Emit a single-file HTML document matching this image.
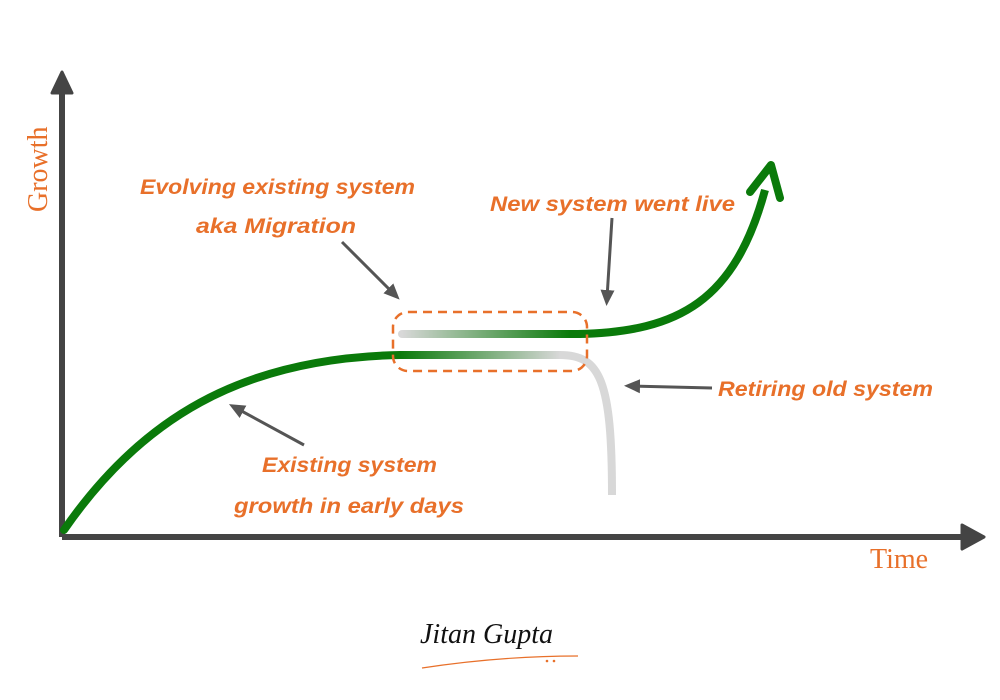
<!DOCTYPE html>
<html><head><meta charset="utf-8"><style>
html,body{margin:0;padding:0;background:#fff;width:1000px;height:700px;overflow:hidden}
svg text{font-family:"Liberation Sans",sans-serif;fill:#e8702a}
</style></head><body>
<svg width="1000" height="700" viewBox="0 0 1000 700" xmlns="http://www.w3.org/2000/svg">
<defs>
<linearGradient id="g1" x1="400" y1="0" x2="560" y2="0" gradientUnits="userSpaceOnUse">
<stop offset="0" stop-color="#0a7a0a"/><stop offset="1" stop-color="#d8d8d8"/></linearGradient>
<linearGradient id="g2" x1="402" y1="0" x2="570" y2="0" gradientUnits="userSpaceOnUse">
<stop offset="0" stop-color="#d8d8d8"/><stop offset="1" stop-color="#0a7a0a"/></linearGradient>
<marker id="ah" markerWidth="16" markerHeight="16" refX="8" refY="8" orient="auto" markerUnits="userSpaceOnUse">
<path d="M0,1 L16,8 L0,15 Z" fill="#555"/></marker>
</defs>
<!-- axes -->
<line x1="62" y1="90" x2="62" y2="537" stroke="#444" stroke-width="6"/>
<path d="M52,93 L62,72 L72,93 Z" fill="#444" stroke="#444" stroke-width="3" stroke-linejoin="round"/>
<line x1="62" y1="537" x2="968" y2="537" stroke="#444" stroke-width="6"/>
<path d="M962,525 L984,537 L962,549 Z" fill="#444" stroke="#444" stroke-width="3" stroke-linejoin="round"/>
<text x="47" y="212" font-size="28" transform="rotate(-90 47 212)" text-anchor="start" style="font-family:'Liberation Serif',serif">Growth</text>
<text x="870" y="568" font-size="28" style="font-family:'Liberation Serif',serif">Time</text>
<!-- old curve -->
<path d="M64,530 C140,420 240,358 400,355" fill="none" stroke="#0a7a0a" stroke-width="8" stroke-linecap="round"/>
<path d="M400,355 L560,355" fill="none" stroke="url(#g1)" stroke-width="8"/>
<path d="M560,355 C600,355 612,380 612,495" fill="none" stroke="#d8d8d8" stroke-width="8"/>
<!-- new curve -->
<path d="M402,334 L580,334" fill="none" stroke="url(#g2)" stroke-width="8" stroke-linecap="round"/>
<path d="M578,334 C680,332 735,300 765,190" fill="none" stroke="#0a7a0a" stroke-width="8"/>
<path d="M750,192 L771,165 L780,198" fill="none" stroke="#0a7a0a" stroke-width="8" stroke-linecap="round" stroke-linejoin="round"/>
<!-- dashed box -->
<rect x="393" y="312" width="194" height="59" rx="15" fill="none" stroke="#e8702a" stroke-width="2.5" stroke-dasharray="9,6"/>
<!-- pointer arrows -->
<g stroke="#555" stroke-width="3" fill="none" marker-end="url(#ah)">
<line x1="342" y1="242" x2="394" y2="294"/>
<line x1="612" y1="218" x2="607" y2="298"/>
<line x1="712" y1="388" x2="632" y2="386"/>
<line x1="304" y1="445" x2="236" y2="408"/>
</g>
<!-- labels -->
<g font-size="21" font-style="italic" font-weight="bold">
<text x="140" y="194" textLength="275" lengthAdjust="spacingAndGlyphs">Evolving existing system</text>
<text x="196" y="233" textLength="160" lengthAdjust="spacingAndGlyphs">aka Migration</text>
<text x="490" y="211" textLength="245" lengthAdjust="spacingAndGlyphs">New system went live</text>
<text x="718" y="396" textLength="215" lengthAdjust="spacingAndGlyphs">Retiring old system</text>
<text x="262" y="472" textLength="175" lengthAdjust="spacingAndGlyphs">Existing system</text>
<text x="234" y="513" textLength="230" lengthAdjust="spacingAndGlyphs">growth in early days</text>
</g>
<!-- signature -->
<text x="420" y="643" font-size="28" font-style="italic" style="font-family:'Liberation Serif',serif;fill:#111">Jitan Gupta</text>
<path d="M422,668 Q500,656 578,656" fill="none" stroke="#e8702a" stroke-width="1.2"/>
<circle cx="547" cy="661" r="1.3" fill="#e8702a"/><circle cx="554" cy="661" r="1.3" fill="#e8702a"/>
</svg>
</body></html>
